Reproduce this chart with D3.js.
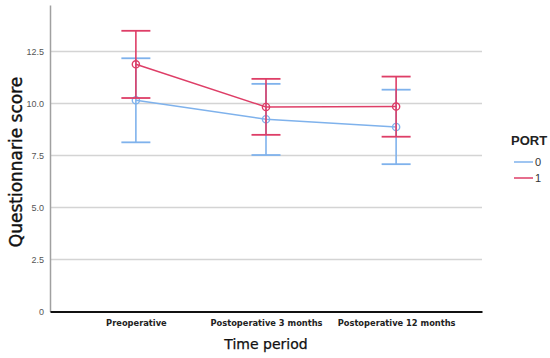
<!DOCTYPE html>
<html><head><meta charset="utf-8">
<script src="https://cdn.jsdelivr.net/npm/d3@7/dist/d3.min.js"></script>
<style>body{margin:0;background:#fff}svg{display:block}</style>
</head><body><svg id="c" width="550" height="358"></svg>
<script>
const categories = ["Preoperative", "Postoperative 3 months", "Postoperative 12 months"];
const groups = ["0", "1"];
const mean0 = [10.15, 9.24, 8.87];
const lower0 = [8.13, 7.52, 7.08];
const upper0 = [12.17, 10.94, 10.66];
const mean1 = [11.88, 9.83, 9.85];
const lower1 = [10.26, 8.49, 8.40];
const upper1 = [13.49, 11.18, 11.29];
const yTicks = [0, 2.5, 5.0, 7.5, 10.0, 12.5];
const colors = {"0": "#7fb2ec", "1": "#de3e67"};

const svg = d3.select("#c");
const x = d3.scalePoint().domain(categories).range([50, 482]).padding(0.66);
const y = d3.scaleLinear().domain([0, 14.73]).range([311.5, 5]);

// gridlines
svg.append("g").selectAll("line").data(yTicks.filter(d => d > 0)).join("line")
  .attr("x1", 50).attr("x2", 482).attr("y1", d => y(d)).attr("y2", d => y(d))
  .attr("stroke", "#d4d4d4").attr("stroke-width", 1.5);

// y axis
const ya = svg.append("g").attr("transform", "translate(50,0)")
  .call(d3.axisLeft(y).tickValues(yTicks).tickSize(0).tickPadding(6)
    .tickFormat(d => d === 0 ? "0" : d3.format(".1f")(d)));
ya.select(".domain").attr("stroke", "#a0a0a0").attr("stroke-width", 1.5);
ya.selectAll("text").attr("font-family", "Liberation Sans, Arial, sans-serif")
  .attr("font-size", 9).attr("fill", "#555");

// x axis
const xa = svg.append("g").attr("transform", "translate(0,311.5)")
  .call(d3.axisBottom(x).tickSize(0).tickPadding(9));
xa.select(".domain").attr("stroke", "#111").attr("stroke-width", 2.2);
xa.selectAll("text").attr("font-family", "DejaVu Sans, sans-serif")
  .attr("font-size", 8.3).attr("font-weight", "bold").attr("fill", "#222");

const series = [
  {g: "0", mean: mean0, lo: lower0, hi: upper0},
  {g: "1", mean: mean1, lo: lower1, hi: upper1}
];
const capW = 14.5;
series.forEach(s => {
  const col = colors[s.g];
  const gr = svg.append("g");
  const line = d3.line().x((d, i) => x(categories[i])).y(d => y(d));
  gr.append("path").attr("d", line(s.mean)).attr("fill", "none")
    .attr("stroke", col).attr("stroke-width", 1.5);
  categories.forEach((c, i) => {
    const cx = x(c);
    gr.append("line").attr("x1", cx).attr("x2", cx).attr("y1", y(s.lo[i])).attr("y2", y(s.hi[i]))
      .attr("stroke", col).attr("stroke-width", 1.6);
    [s.lo[i], s.hi[i]].forEach(v => {
      gr.append("line").attr("x1", cx - capW).attr("x2", cx + capW).attr("y1", y(v)).attr("y2", y(v))
        .attr("stroke", col).attr("stroke-width", 1.8);
    });
    gr.append("circle").attr("cx", cx).attr("cy", y(s.mean[i])).attr("r", 3.6)
      .attr("fill", "none").attr("stroke", col).attr("stroke-width", 1.4);
  });
});

// axis titles
svg.append("text").attr("x", 266).attr("y", 349).attr("text-anchor", "middle")
  .attr("font-family", "DejaVu Sans, sans-serif").attr("font-size", 14).attr("fill", "#111")
  .attr("stroke", "#111").attr("stroke-width", 0.25)
  .text("Time period");
svg.append("text").attr("transform", "translate(22,162) rotate(-90)").attr("text-anchor", "middle")
  .attr("font-family", "DejaVu Sans, sans-serif").attr("font-size", 17).attr("fill", "#111")
  .attr("stroke", "#111").attr("stroke-width", 0.4)
  .text("Questionnarie score");

// legend
svg.append("text").attr("x", 511).attr("y", 145)
  .attr("font-family", "Liberation Sans, Arial, sans-serif").attr("font-size", 13).attr("font-weight", "bold").attr("fill", "#222")
  .text("PORT");
groups.forEach((g, i) => {
  const ly = 162 + i * 16;
  svg.append("line").attr("x1", 514).attr("x2", 533).attr("y1", ly).attr("y2", ly)
    .attr("stroke", colors[g]).attr("stroke-width", 1.5);
  svg.append("text").attr("x", 535).attr("y", ly + 4)
    .attr("font-family", "Liberation Sans, Arial, sans-serif").attr("font-size", 11).attr("fill", "#333")
    .text(g);
});
</script></body></html>
